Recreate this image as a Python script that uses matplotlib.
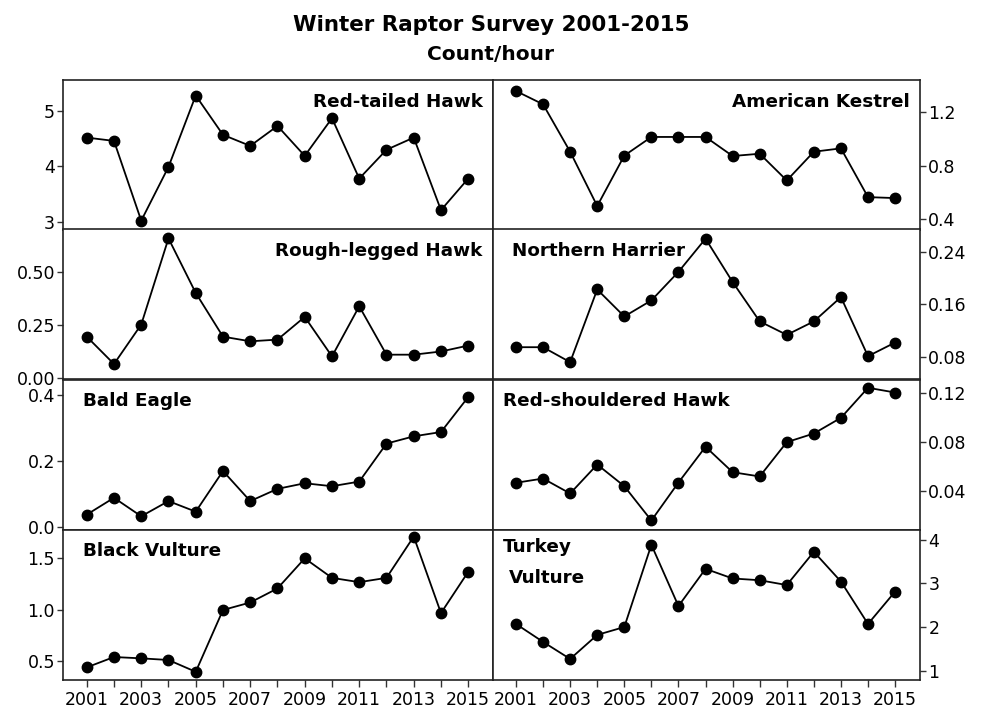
import matplotlib
matplotlib.use("Agg")
import matplotlib.pyplot as plt
import numpy as np

years = list(range(2001, 2016))

red_tailed = [4.52, 4.46, 3.02, 3.99, 5.28, 4.57, 4.37, 4.73, 4.19, 4.87, 3.78, 4.30, 4.52, 3.21, 3.78]
kestrel = [1.356, 1.257, 0.904, 0.50, 0.875, 1.014, 1.014, 1.014, 0.872, 0.889, 0.69, 0.904, 0.929, 0.566, 0.559]
rough_legged = [0.193, 0.064, 0.25, 0.656, 0.399, 0.193, 0.171, 0.179, 0.286, 0.10, 0.336, 0.108, 0.108, 0.123, 0.151]
harrier = [0.0947, 0.0947, 0.0719, 0.1826, 0.1415, 0.166, 0.2095, 0.26, 0.194, 0.134, 0.1135, 0.134, 0.171, 0.081, 0.1018]
bald_eagle = [0.038, 0.089, 0.033, 0.079, 0.047, 0.170, 0.079, 0.116, 0.133, 0.124, 0.138, 0.253, 0.275, 0.288, 0.394]
red_shouldered = [0.0466, 0.0501, 0.0378, 0.0616, 0.0438, 0.0156, 0.0468, 0.0762, 0.0553, 0.0518, 0.080, 0.0871, 0.100, 0.1247, 0.1208]
black_vulture = [0.438, 0.539, 0.526, 0.51, 0.395, 0.997, 1.07, 1.207, 1.50, 1.31, 1.268, 1.31, 1.712, 0.967, 1.369]
turkey_vulture = [2.07, 1.66, 1.27, 1.82, 2.0, 3.88, 2.48, 3.33, 3.11, 3.07, 2.96, 3.72, 3.04, 2.07, 2.81]

title = "Winter Raptor Survey 2001-2015"
subtitle = "Count/hour"

panels = [
    # (data, label lines, ylim, yticks, ticklabels, side, label position)
    (red_tailed, ["Red-tailed Hawk"], (2.86, 5.56), [3, 4, 5], ["3", "4", "5"], "left", "right"),
    (kestrel, ["American Kestrel"], (0.325, 1.438), [0.4, 0.8, 1.2], ["0.4", "0.8", "1.2"], "right", "right"),
    (rough_legged, ["Rough-legged Hawk"], (-0.009, 0.698), [0.0, 0.25, 0.5], ["0.00", "0.25", "0.50"], "left", "right"),
    (harrier, ["Northern Harrier"], (0.0455, 0.274), [0.08, 0.16, 0.24], ["0.08", "0.16", "0.24"], "right", "left"),
    (bald_eagle, ["Bald Eagle"], (-0.007, 0.447), [0.0, 0.2, 0.4], ["0.0", "0.2", "0.4"], "left", "left"),
    (red_shouldered, ["Red-shouldered Hawk"], (0.0082, 0.1315), [0.04, 0.08, 0.12], ["0.04", "0.08", "0.12"], "right", "left"),
    (black_vulture, ["Black Vulture"], (0.32, 1.781), [0.5, 1.0, 1.5], ["0.5", "1.0", "1.5"], "left", "left"),
    (turkey_vulture, ["Turkey", "Vulture"], (0.80, 4.23), [1, 2, 3, 4], ["1", "2", "3", "4"], "right", "left"),
]

W, H = 982, 709
fig = plt.figure(figsize=(W / 100, H / 100), dpi=100)
fig.patch.set_facecolor("white")

col_x = [(63.3, 493.3), (492.7, 920.0)]
row_y = [(80, 229.5), (229.5, 379.5), (379.5, 529.5), (529.5, 679.5)]

for i, (data, lab, ylim, yt, ytl, side, lpos) in enumerate(panels):
    r, c = divmod(i, 2)
    x0, x1 = col_x[c]
    yt0, yb0 = row_y[r]
    ax = fig.add_axes([x0 / W, 1 - yb0 / H, (x1 - x0) / W, (yb0 - yt0) / H])
    ax.plot(years, data, color="black", lw=1.3, marker="o", ms=7.5,
            markerfacecolor="black", markeredgecolor="black", zorder=3)
    ax.set_xlim(2000.14, 2015.92)
    ax.set_ylim(*ylim)
    ax.set_yticks(yt)
    ax.set_yticklabels(ytl)
    for s in ax.spines.values():
        s.set_linewidth(1.2)
        s.set_color("#222222")
    if side == "right":
        ax.yaxis.tick_right()
    ax.tick_params(axis="y", labelsize=12.5, length=4, width=1, color="#333333", pad=2)
    if r == 3:
        ax.set_xticks(years)
        ax.set_xticklabels([str(y) if (y - 2001) % 2 == 0 else "" for y in years])
        ax.tick_params(axis="x", labelsize=12.5, length=5, width=1, color="#333333", pad=3)
    else:
        ax.set_xticks([])
    fs = 13.2
    if lpos == "right":
        ax.text(0.975, 0.855, lab[0], transform=ax.transAxes, ha="right", va="center",
                fontsize=fs, fontweight="bold")
    else:
        if len(lab) == 1:
            xa = 0.046 if c == 0 else (0.044 if i == 3 else 0.023)
            ax.text(xa, 0.855, lab[0], transform=ax.transAxes, ha="left", va="center",
                    fontsize=fs, fontweight="bold")
        else:
            ax.text(0.024, 0.88, lab[0], transform=ax.transAxes, ha="left", va="center",
                    fontsize=fs, fontweight="bold")
            ax.text(0.037, 0.675, lab[1], transform=ax.transAxes, ha="left", va="center",
                    fontsize=fs, fontweight="bold")

fig.text(0.5, 1 - 25 / H, title, ha="center", va="center", fontsize=15.4, fontweight="bold")
fig.text(0.5, 1 - 55 / H, subtitle, ha="center", va="center", fontsize=14.5, fontweight="bold")

fig.savefig("out.png", dpi=100, facecolor="white")
